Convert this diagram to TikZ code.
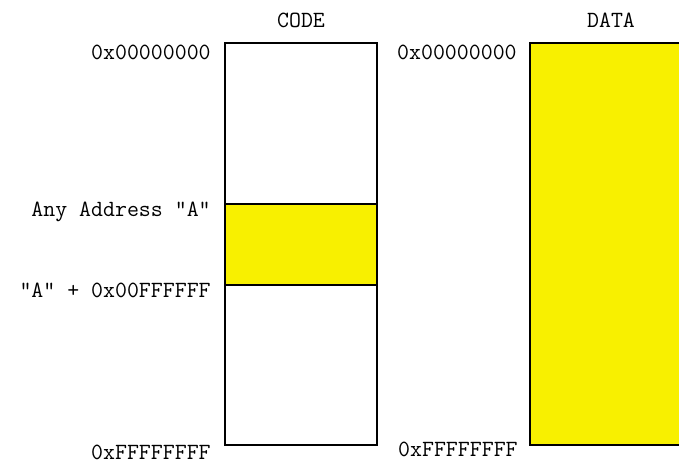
\documentclass[tikz,border=0pt]{standalone}
\usetikzlibrary{positioning}
\definecolor{memyellow}{RGB}{248,240,0}

\tikzset{
  membox/.style={draw=black, line width=0.6pt},
  addr/.style={font=\ttfamily\fontsize{13.2}{15}\selectfont, inner sep=0pt, anchor=east},
  title/.style={font=\ttfamily\fontsize{13.2}{15}\selectfont, inner sep=0pt}
}

\begin{document}
\begin{tikzpicture}

  \useasboundingbox (0,0) rectangle (13.58,9.26);

  % --- code region ---
  \draw[membox] (4.50,0.36) rectangle (7.54,8.40);
  \draw[membox, fill=memyellow] (4.50,3.56) rectangle (7.54,5.18);
  \node[title] (code) at (6.02,8.86) {CODE};

  \node[addr] (codetop) at (4.22,8.22) {0x00000000};
  \node[addr] (anyaddr) at (4.22,5.02) {Any Address "A"};
  \node[addr] (aplus) at (4.22,3.46) {"A" + 0x00FFFFFF};
  \node[addr] (codebot) at (4.22,0.22) {0xFFFFFFFF};

  % --- data region (runs off the right edge) ---
  \fill[memyellow] (10.60,0.36) rectangle (13.58,8.40);
  \draw[membox] (13.58,8.40) -| (10.60,0.36) -- (13.58,0.36);
  \node[title] (data) at (12.22,8.86) {DATA};

  \node[addr] (datatop) at (10.34,8.22) {0x00000000};
  \node[addr] (databot) at (10.36,0.27) {0xFFFFFFFF};

\end{tikzpicture}
\end{document}
